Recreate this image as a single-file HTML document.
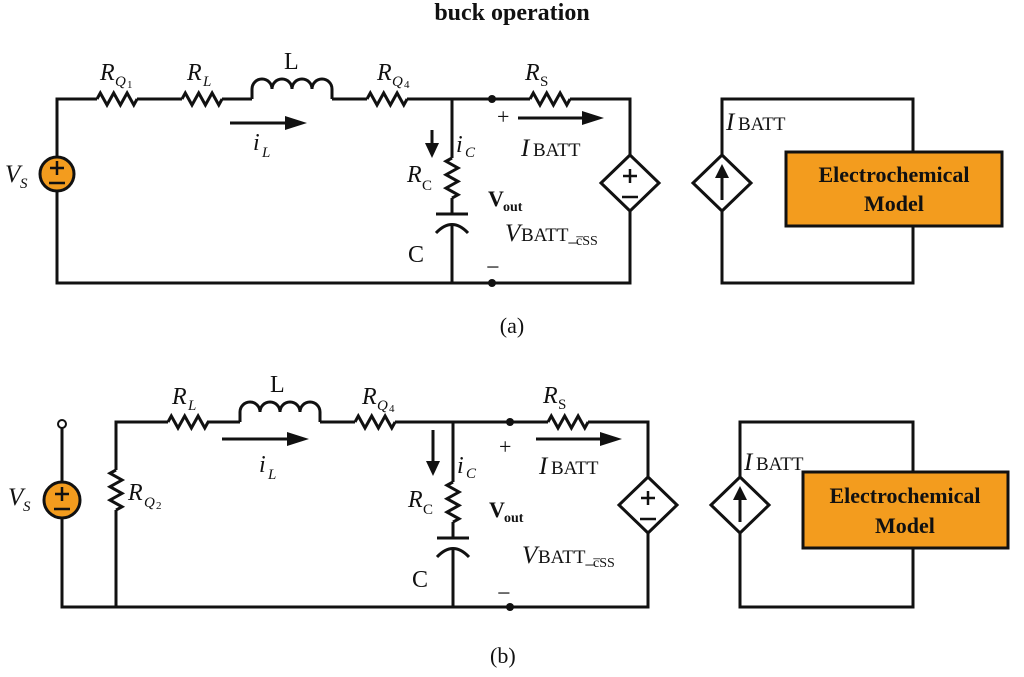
<!DOCTYPE html>
<html><head><meta charset="utf-8"><style>
html,body{margin:0;padding:0;background:#fff}
svg{display:block}
text{font-family:"Liberation Serif",serif;fill:#111}
.w{stroke:#111;stroke-width:3;fill:none}
.i{font-style:italic}
</style></head><body>
<svg width="1024" height="677" viewBox="0 0 1024 677">
<defs>
<path id="rh" d="M0,0 l3.3,-6 6.7,12 6.7,-12 6.7,12 6.7,-12 6.7,12 3.3,-6" class="w"/>
<path id="rv" d="M0,0 l-6,3.3 12,6.7 -12,6.7 12,6.7 -12,6.7 12,6.7 -6,3.3" class="w"/>
<path id="ind" d="M0,0 v-10 a10,10 0 0 1 20,0 a10,10 0 0 1 20,0 a10,10 0 0 1 20,0 a10,10 0 0 1 20,0 v10" class="w"/>
</defs>
<text x="512" y="20" text-anchor="middle" font-size="24" font-weight="bold">buck operation</text>

<!-- (a) -->
<g>
<path class="w" d="M57,157 V99 H97 M137,99 H182 M222,99 H252 M332,99 H367 M407,99 H530 M570,99 H630 V155 M630,211 V283 H57 V191"/>
<use href="#rh" x="97" y="99"/><use href="#rh" x="182" y="99"/><use href="#rh" x="367" y="99"/><use href="#rh" x="530" y="99"/>
<use href="#ind" x="252" y="99"/>
<path class="w" d="M452,99 V158 M452,198 V214 M436,214 H468 M452,226 V283 M436,233 Q452,216 468,233"/>
<use href="#rv" x="452" y="158"/>
<circle cx="57" cy="174" r="17" fill="#F39C1E" stroke="#111" stroke-width="3"/>
<path d="M50,168 H64 M57,161 V175 M49,183 H65" stroke="#111" stroke-width="2.5"/>
<circle cx="492" cy="99" r="4" fill="#111"/><circle cx="492" cy="283" r="4" fill="#111"/>
<path d="M630,155 L659,183 L630,211 L601,183 Z" class="w"/>
<path d="M623,176 H637 M630,169 V183 M622,197 H638" stroke="#111" stroke-width="2.5"/>
<path class="w" d="M722,155 V99 H913 V152 M913,226 V283 H722 V211"/>
<path d="M722,155 L751,183 L722,211 L693,183 Z" class="w"/>
<path d="M722,200 V175" stroke="#111" stroke-width="3"/><path d="M715,178 L722,164 L729,178 Z" fill="#111"/>
<rect x="786" y="152" width="216" height="74" fill="#F39C1E" stroke="#111" stroke-width="3"/>
<text x="894" y="182" text-anchor="middle" font-size="22" font-weight="bold">Electrochemical</text>
<text x="894" y="211" text-anchor="middle" font-size="22" font-weight="bold">Model</text>
<path d="M230,123 H288" stroke="#111" stroke-width="3"/><path d="M285,116 L307,123 L285,130 Z" fill="#111"/>
<path d="M432,130 V146" stroke="#111" stroke-width="3"/><path d="M425,143 L432,158 L439,143 Z" fill="#111"/>
<path d="M518,118 H585" stroke="#111" stroke-width="3"/><path d="M582,111 L604,118 L582,125 Z" fill="#111"/>
<text x="100" y="80" class="i" font-size="24">R</text><text x="115" y="86" class="i" font-size="15">Q</text><text x="127" y="88" font-size="11">1</text>
<text x="187" y="80" class="i" font-size="24">R</text><text x="203" y="86" class="i" font-size="15">L</text>
<text x="284" y="69" font-size="24">L</text>
<text x="377" y="80" class="i" font-size="24">R</text><text x="392" y="86" class="i" font-size="15">Q</text><text x="404" y="88" font-size="11">4</text>
<text x="525" y="80" class="i" font-size="24">R</text><text x="540" y="86" font-size="15">S</text>
<text x="253" y="150" class="i" font-size="24">i</text><text x="262" y="157" class="i" font-size="15">L</text>
<text x="456" y="152" class="i" font-size="24">i</text><text x="465" y="157" class="i" font-size="15">C</text>
<text x="407" y="182" class="i" font-size="24">R</text><text x="422" y="190" font-size="15">C</text>
<text x="488" y="206" font-size="22" font-weight="bold">V</text><text x="503" y="211" font-size="14" font-weight="bold">out</text>
<text x="408" y="262" font-size="24">C</text>
<text x="497" y="124" font-size="22">+</text>
<text x="486" y="275" font-size="24">−</text>
<text x="521" y="156" class="i" font-size="25">I</text><text x="533" y="156" font-size="19">BATT</text>
<text x="505" y="241" class="i" font-size="25">V</text><text x="521" y="241" font-size="19">BATT_</text><text x="576" y="245" font-size="14">c̅SS</text>
<text x="726" y="130" class="i" font-size="25">I</text><text x="738" y="130" font-size="19">BATT</text>
<text x="5" y="182" class="i" font-size="25">V</text><text x="20" y="188" class="i" font-size="15">S</text>
<text x="512" y="333" text-anchor="middle" font-size="22">(a)</text>
</g>

<!-- (b) -->
<g>
<path class="w" d="M62,427 V481 M62,519 V607 H648 V533 M648,477 V422 H588 M548,422 H395 M355,422 H320 M240,422 H207 M168,422 H116 V470 M116,510 V607"/>
<circle cx="62" cy="424" r="4" fill="#fff" stroke="#111" stroke-width="2"/>
<use href="#rv" x="116" y="470"/>
<use href="#rh" x="168" y="422"/><use href="#rh" x="355" y="422"/><use href="#rh" x="548" y="422"/>
<use href="#ind" x="240" y="422"/>
<path class="w" d="M453,422 V482 M453,522 V538 M437,538 H469 M453,550 V607 M437,557 Q453,540 469,557"/>
<use href="#rv" x="453" y="482"/>
<circle cx="62" cy="500" r="18" fill="#F39C1E" stroke="#111" stroke-width="3"/>
<path d="M55,494 H69 M62,487 V501 M54,509 H70" stroke="#111" stroke-width="2.5"/>
<circle cx="510" cy="422" r="4" fill="#111"/><circle cx="510" cy="607" r="4" fill="#111"/>
<path d="M648,477 L677,505 L648,533 L619,505 Z" class="w"/>
<path d="M641,498 H655 M648,491 V505 M640,519 H656" stroke="#111" stroke-width="2.5"/>
<path class="w" d="M740,477 V422 H913 V472 M913,548 V607 H740 V533"/>
<path d="M740,477 L769,505 L740,533 L711,505 Z" class="w"/>
<path d="M740,522 V497" stroke="#111" stroke-width="3"/><path d="M733,500 L740,486 L747,500 Z" fill="#111"/>
<rect x="803" y="472" width="205" height="76" fill="#F39C1E" stroke="#111" stroke-width="3"/>
<text x="905" y="503" text-anchor="middle" font-size="22" font-weight="bold">Electrochemical</text>
<text x="905" y="533" text-anchor="middle" font-size="22" font-weight="bold">Model</text>
<path d="M222,439 H290" stroke="#111" stroke-width="3"/><path d="M287,432 L309,439 L287,446 Z" fill="#111"/>
<path d="M433,430 V464" stroke="#111" stroke-width="3"/><path d="M426,461 L433,476 L440,461 Z" fill="#111"/>
<path d="M536,439 H603" stroke="#111" stroke-width="3"/><path d="M600,432 L622,439 L600,446 Z" fill="#111"/>
<text x="172" y="404" class="i" font-size="24">R</text><text x="188" y="410" class="i" font-size="15">L</text>
<text x="270" y="392" font-size="24">L</text>
<text x="362" y="404" class="i" font-size="24">R</text><text x="377" y="410" class="i" font-size="15">Q</text><text x="389" y="412" font-size="11">4</text>
<text x="543" y="403" class="i" font-size="24">R</text><text x="558" y="409" font-size="15">S</text>
<text x="259" y="472" class="i" font-size="24">i</text><text x="268" y="479" class="i" font-size="15">L</text>
<text x="457" y="473" class="i" font-size="24">i</text><text x="466" y="478" class="i" font-size="15">C</text>
<text x="128" y="500" class="i" font-size="24">R</text><text x="144" y="507" class="i" font-size="15">Q</text><text x="156" y="509" font-size="11">2</text>
<text x="408" y="507" class="i" font-size="24">R</text><text x="423" y="514" font-size="15">C</text>
<text x="489" y="517" font-size="22" font-weight="bold">V</text><text x="504" y="522" font-size="14" font-weight="bold">out</text>
<text x="412" y="587" font-size="24">C</text>
<text x="499" y="454" font-size="22">+</text>
<text x="497" y="601" font-size="24">−</text>
<text x="539" y="474" class="i" font-size="25">I</text><text x="551" y="474" font-size="19">BATT</text>
<text x="522" y="563" class="i" font-size="25">V</text><text x="538" y="563" font-size="19">BATT_</text><text x="593" y="567" font-size="14">c̅SS</text>
<text x="744" y="470" class="i" font-size="25">I</text><text x="756" y="470" font-size="19">BATT</text>
<text x="8" y="505" class="i" font-size="25">V</text><text x="23" y="511" class="i" font-size="15">S</text>
<text x="490" y="663" font-size="22">(b)</text>
</g>
</svg>
</body></html>
